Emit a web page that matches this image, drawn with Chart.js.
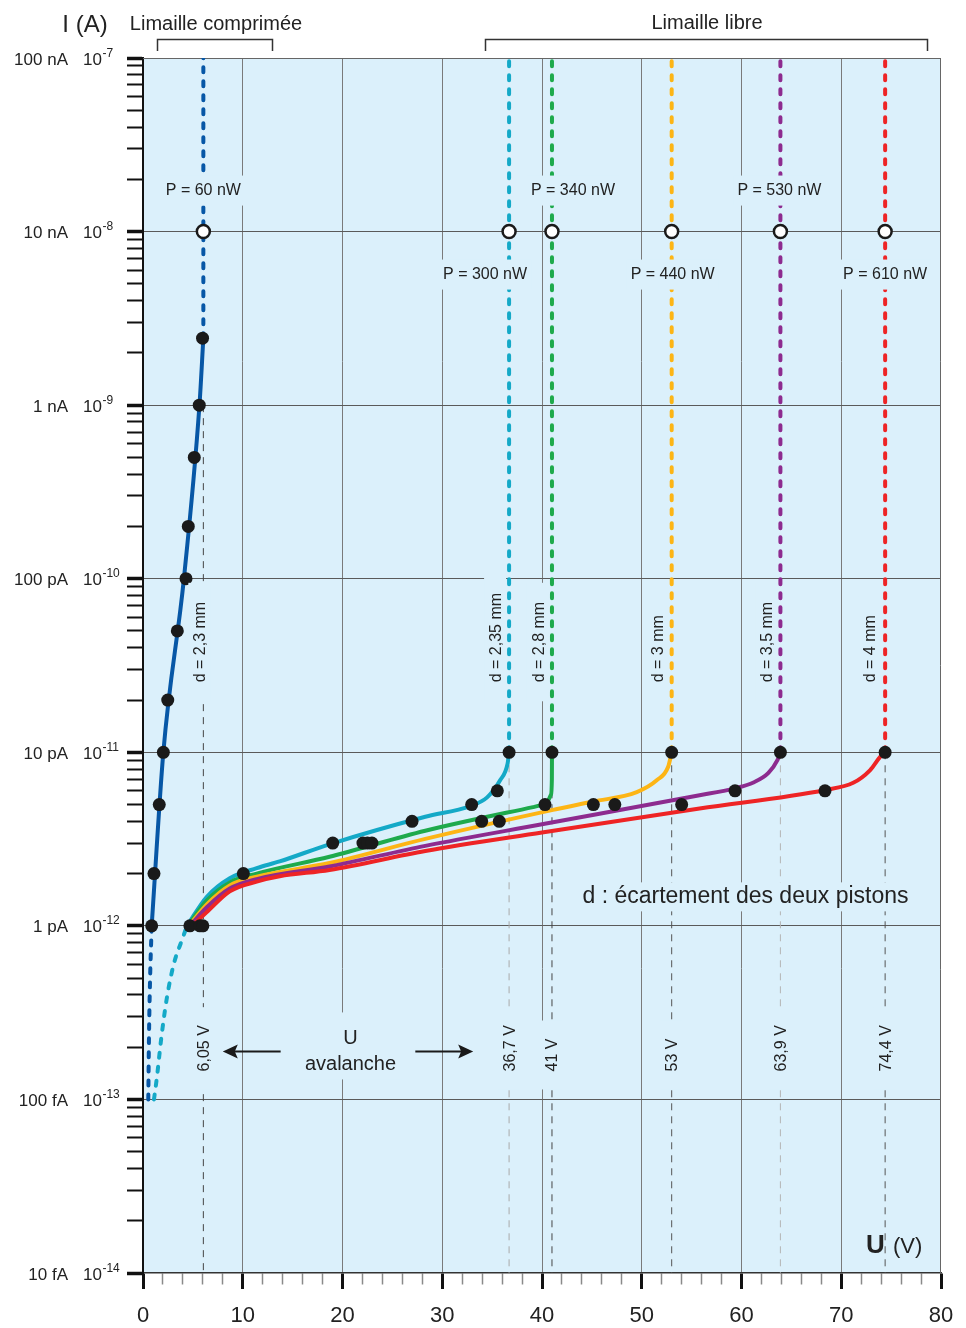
<!DOCTYPE html>
<html>
<head>
<meta charset="utf-8">
<title>Avalanche des limailles</title>
<script src="https://cdn.jsdelivr.net/npm/chart.js@4/dist/chart.umd.min.js"></script>
<style>
  html, body { margin: 0; padding: 0; background: #ffffff; }
  #wrap { width: 966px; height: 1328px; }
</style>
</head>
<body>
<div id="wrap"><canvas id="chart" width="966" height="1328"></canvas></div>
<script>
// ---------- axis labels ----------
const decades = [-7, -8, -9, -10, -11, -12, -13, -14];
const currentNames = ['100 nA', '10 nA', '1 nA', '100 pA', '10 pA', '1 pA', '100 fA', '10 fA'];
const voltTicks = [0, 10, 20, 30, 40, 50, 60, 70, 80];

// ---------- one entry per piston gap ----------
const gapLabels = ['d = 2,3 mm', 'd = 2,35 mm', 'd = 2,8 mm', 'd = 3 mm', 'd = 3,5 mm', 'd = 4 mm'];
const avalancheU = [6.05, 36.7, 41, 53, 63.9, 74.4];
const avalancheText = ['6,05 V', '36,7 V', '41 V', '53 V', '63,9 V', '74,4 V'];
const powerText = ['P = 60 nW', 'P = 300 nW', 'P = 340 nW', 'P = 440 nW', 'P = 530 nW', 'P = 610 nW'];
const kneeI = [2.43e-9, 1e-11, 1e-11, 1e-11, 1e-11, 1e-11];   // start of the avalanche (dotted) part
const guideTopI = [1e-9, 1e-11, 1e-11, 1e-11, 1e-11, 1e-11]; // top of the thin dashed guide
const powerI = 1e-8;   // current at which the dissipated power is given
const topI = 1e-7;
const bottomI = 1e-14;

// ---------- compressed filings (d = 2,3 mm) ----------
const compU = [0.87, 2.04, 4.1, 5.66, 6.05];
const compI = [1e-12, 1e-11, 1e-10, 1e-9, 2.43e-9];
const compLowU = [0.53, 0.6, 0.7, 0.87];
const compLowI = [1e-13, 2.3e-13, 4.7e-13, 1e-12];
const compMeasU = [0.87, 1.10, 1.63, 2.04, 2.48, 3.44, 4.31, 4.54, 5.14, 5.64, 5.97];
const compMeasI = [1e-12, 2e-12, 5e-12, 1e-11, 2e-11, 5e-11, 1e-10, 2e-10, 5e-10, 1e-9, 2.43e-9];

// ---------- loose filings ----------
const looseLowU = [1.1, 1.4, 1.85, 2.41, 3.11, 3.91, 4.41];
const looseLowI = [1e-13, 1.35e-13, 2.3e-13, 3.9e-13, 6.1e-13, 8.3e-13, 1e-12];

const d235U = [4.41, 6.4, 8.7, 11.4, 13.7, 18.7, 28.3, 32.8, 34.5, 35.8, 36.55, 36.7];
const d235I = [1e-12, 1.47e-12, 1.88e-12, 2.15e-12, 2.35e-12, 2.95e-12, 4.25e-12, 4.9e-12, 5.5e-12, 6.9e-12, 8.6e-12, 1e-11];

const d28U = [4.5, 6.4, 8.7, 11.4, 18.7, 28.3, 39.1, 40.45, 40.9, 40.99, 41.0];
const d28I = [1e-12, 1.4e-12, 1.78e-12, 2.0e-12, 2.5e-12, 3.53e-12, 4.83e-12, 5.1e-12, 5.7e-12, 7e-12, 1e-11];

const d3U = [4.6, 6.4, 8.7, 11.4, 18.7, 28.3, 41.1, 45.1, 49.5, 51.5, 52.65, 53.0];
const d3I = [1e-12, 1.33e-12, 1.71e-12, 1.92e-12, 2.3e-12, 3.17e-12, 4.66e-12, 5.2e-12, 5.9e-12, 6.9e-12, 8.25e-12, 1e-11];

const d35U = [4.7, 6.4, 8.7, 11.4, 18.7, 28.3, 40, 55.8, 59.3, 61.2, 62.7, 63.6, 63.9];
const d35I = [1e-12, 1.28e-12, 1.64e-12, 1.86e-12, 2.2e-12, 2.89e-12, 3.85e-12, 5.65e-12, 6.2e-12, 6.7e-12, 7.6e-12, 9e-12, 1e-11];

const d4U = [4.9, 6.4, 8.7, 11.4, 13.7, 18.7, 28.3, 40, 55.8, 68.4, 71.2, 72.9, 73.9, 74.4];
const d4I = [1e-12, 1.2e-12, 1.58e-12, 1.8e-12, 1.93e-12, 2.1e-12, 2.7e-12, 3.45e-12, 4.75e-12, 6.07e-12, 6.67e-12, 7.9e-12, 9.4e-12, 1e-11];

const looseMeasU = [4.7, 5.7, 6.0, 10.06, 19.02, 22.05, 22.5, 22.95, 26.97, 32.95, 33.95, 35.52, 35.72, 40.3, 45.15, 47.3, 54.0, 59.35, 68.37];
const looseMeasI = [1e-12, 1e-12, 1e-12, 2e-12, 3e-12, 3e-12, 3e-12, 3e-12, 4e-12, 5e-12, 4e-12, 6e-12, 4e-12, 5e-12, 5e-12, 5e-12, 5e-12, 6e-12, 6e-12];

// ---------- styles ----------
const FONT = '"Liberation Sans", Arial, Helvetica, sans-serif';
const INK = '#222222';
const PLOT_BG = '#dbf0fb';
const seriesColors = ['#0757a6', '#14a9c7', '#1eaa4c', '#fdb515', '#8d2b8f', '#ee2425'];
const guideColors = ['#444444', '#a9a9a9', '#444444', '#555555', '#b5b5b5', '#555555'];

Chart.defaults.font.family = FONT;

const zip = (us, is) => us.map((u, k) => ({ x: u, y: is[k] }));

const curve = (us, is, color) => ({
  data: zip(us, is), borderColor: color, borderWidth: 4, pointRadius: 0,
  cubicInterpolationMode: 'monotone', borderCapStyle: 'round', borderJoinStyle: 'round', order: 2
});
const dotted = (us, is, color, mono) => ({
  data: zip(us, is), borderColor: color, borderWidth: 4, pointRadius: 0,
  borderDash: [5, 9], borderCapStyle: 'round',
  cubicInterpolationMode: mono ? 'monotone' : 'default', tension: 0, order: 3
});
const markers = (us, is, opts) => Object.assign({
  data: zip(us, is), showLine: false, pointRadius: 6.5, pointBorderWidth: 0,
  pointBackgroundColor: '#1a1a1a', pointBorderColor: '#1a1a1a', order: 1
}, opts || {});

const datasets = [];
// power circles on top
datasets.push(markers(avalancheU, avalancheU.map(() => powerI), {
  pointRadius: 6.5, pointBorderWidth: 2.5, pointBackgroundColor: '#ffffff', order: 0
}));
datasets.push(markers(compMeasU, compMeasI));
datasets.push(markers(looseMeasU, looseMeasI));
datasets.push(markers(avalancheU.slice(1), kneeI.slice(1)));
// measured characteristics
datasets.push(curve(compU, compI, seriesColors[0]));
datasets.push(curve(d4U, d4I, seriesColors[5]));
datasets.push(curve(d35U, d35I, seriesColors[4]));
datasets.push(curve(d3U, d3I, seriesColors[3]));
datasets.push(curve(d28U, d28I, seriesColors[2]));
datasets.push(curve(d235U, d235I, seriesColors[1]));
// extrapolated parts
datasets.push(dotted(compLowU, compLowI, seriesColors[0], true));
datasets.push(dotted(looseLowU, looseLowI, seriesColors[1], true));
avalancheU.forEach((u, k) => {
  datasets.push(dotted([u, u], [kneeI[k], topI], seriesColors[k], false));
});
// thin guides down to the voltage axis
avalancheU.forEach((u, k) => {
  datasets.push({
    data: zip([u, u], [guideTopI[k], bottomI]), borderColor: guideColors[k], borderWidth: 1,
    borderDash: [7, 6], pointRadius: 0, tension: 0, order: 4
  });
});

// tick lists
const xTickValues = [];
for (let v = 0; v <= 80; v += 2) xTickValues.push(v);
const yTickValues = [];
for (let e = -14; e < -7; e++) for (let m = 1; m <= 9; m++) yTickValues.push(m * Math.pow(10, e));
yTickValues.push(topI);

const isDecade = v => Math.abs(Math.log10(v) - Math.round(Math.log10(v))) < 1e-9;
const isMajorX = c => c.tick && voltTicks.includes(c.tick.value);

// ---------- drawing helpers ----------
function boxedText(ctx, txt, cx, cy, size, padX, padY) {
  ctx.font = `${size}px ${FONT}`;
  const w = ctx.measureText(txt).width;
  const h = size;
  ctx.fillStyle = PLOT_BG;
  ctx.fillRect(cx - w / 2 - padX, cy - h / 2 - padY, w + 2 * padX, h + 2 * padY);
  ctx.fillStyle = INK;
  ctx.textAlign = 'center';
  ctx.textBaseline = 'middle';
  ctx.fillText(txt, cx, cy);
}

// vertical text reading bottom to top; (bx, sy) = baseline x and start y
function verticalText(ctx, txt, bx, sy, size, padAlong) {
  ctx.save();
  ctx.translate(bx, sy);
  ctx.rotate(-Math.PI / 2);
  ctx.font = `${size}px ${FONT}`;
  const w = ctx.measureText(txt).width;
  ctx.fillStyle = PLOT_BG;
  ctx.fillRect(-padAlong, -17, w + 2 * padAlong, 22);
  ctx.fillStyle = INK;
  ctx.textAlign = 'left';
  ctx.textBaseline = 'alphabetic';
  ctx.fillText(txt, 0, 0);
  ctx.restore();
}

function arrow(ctx, x0, x1, y) {
  const dir = Math.sign(x1 - x0);
  ctx.strokeStyle = '#1a1a1a';
  ctx.fillStyle = '#1a1a1a';
  ctx.lineWidth = 2;
  ctx.beginPath();
  ctx.moveTo(x0, y);
  ctx.lineTo(x1 - dir * 10, y);
  ctx.stroke();
  ctx.beginPath();
  ctx.moveTo(x1, y);
  ctx.lineTo(x1 - dir * 15, y - 7);
  ctx.lineTo(x1 - dir * 12, y);
  ctx.lineTo(x1 - dir * 15, y + 7);
  ctx.closePath();
  ctx.fill();
}

const decorations = {
  id: 'decorations',
  beforeDraw(chart) {
    const { ctx, chartArea: a } = chart;
    ctx.save();
    ctx.fillStyle = PLOT_BG;
    ctx.fillRect(a.left, a.top, a.right - a.left, a.bottom - a.top);
    ctx.restore();
  },
  beforeDatasetsDraw(chart) {
    const { ctx, chartArea: a } = chart;
    ctx.save();
    ctx.strokeStyle = '#666666';
    ctx.lineWidth = 1;
    ctx.beginPath();
    ctx.moveTo(a.left, Math.round(a.top) + 0.5);
    ctx.lineTo(a.right, Math.round(a.top) + 0.5);
    ctx.moveTo(Math.round(a.right) - 0.5, a.top);
    ctx.lineTo(Math.round(a.right) - 0.5, a.bottom);
    ctx.stroke();
    ctx.restore();
  },
  afterDatasetsDraw(chart) {
    const { ctx } = chart;
    const xs = chart.scales.x, ys = chart.scales.y;
    const lx = avalancheU.map(u => xs.getPixelForValue(u));
    ctx.save();

    // dissipated power at the avalanche
    const powerAbove = [true, false, true, false, true, false];
    const powerShift = [0, -24, 21, 1, -1, 0];
    const yAbove = ys.getPixelForValue(powerI) - 41;
    const yBelow = ys.getPixelForValue(powerI) + 43;
    powerText.forEach((t, k) => {
      boxedText(ctx, t, lx[k] + powerShift[k], powerAbove[k] ? yAbove : yBelow, 16, 4, 7);
    });

    // piston gaps
    const gapShift = [2, -8, -8, -9, -8, -10];
    const gapStart = ys.getPixelForValue(kneeI[1]) - 70;
    gapLabels.forEach((t, k) => verticalText(ctx, t, lx[k] + gapShift[k], gapStart, 16, 19));

    // avalanche voltages
    const voltStart = ys.getPixelForValue(1e-13) - 28;
    avalancheText.forEach((t, k) => verticalText(ctx, t, lx[k] + 5.5, voltStart, 16, 18));

    // "U avalanche" with arrows
    const ay = ys.getPixelForValue(1e-13) - 48;
    const cx = xs.getPixelForValue(20.8);
    ctx.fillStyle = PLOT_BG;
    ctx.fillRect(cx - 52, ay - 39, 104, 67);
    ctx.fillStyle = INK;
    ctx.font = `20px ${FONT}`;
    ctx.textAlign = 'center';
    ctx.textBaseline = 'alphabetic';
    ctx.fillText('U', cx, ay - 7);
    ctx.fillText('avalanche', cx, ay + 19);
    arrow(ctx, xs.getPixelForValue(13.8), xs.getPixelForValue(8.0), ay);
    arrow(ctx, xs.getPixelForValue(27.3), xs.getPixelForValue(33.1), ay);

    // legend of d
    boxedText(ctx, 'd : écartement des deux pistons', xs.getPixelForValue(60.4), ys.getPixelForValue(1e-12) - 29, 23, 3, 3);

    // axis title U (V)
    ctx.fillStyle = INK;
    ctx.textAlign = 'left';
    ctx.textBaseline = 'alphabetic';
    ctx.font = `bold 26px ${FONT}`;
    ctx.fillText('U', 866, 1253);
    ctx.font = `22px ${FONT}`;
    ctx.fillText('(V)', 893, 1253);
    ctx.restore();
  },
  afterDraw(chart) {
    const { ctx } = chart;
    const ys = chart.scales.y, xs = chart.scales.x;
    ctx.save();
    ctx.fillStyle = INK;
    ctx.textBaseline = 'alphabetic';
    // current scale: name and power of ten
    decades.forEach((e, k) => {
      const py = ys.getPixelForValue(Math.pow(10, e));
      ctx.font = `17px ${FONT}`;
      ctx.textAlign = 'right';
      ctx.fillText(currentNames[k], 68, py + 6.5);
      ctx.textAlign = 'left';
      ctx.fillText('10', 83, py + 6.5);
      const w = ctx.measureText('10').width;
      ctx.font = `12px ${FONT}`;
      ctx.fillText(String(e), 83 + w + 0.5, py - 1.5);
    });

    // titles
    ctx.textAlign = 'center';
    ctx.font = `24px ${FONT}`;
    ctx.fillText('I (A)', 85, 32);
    ctx.font = `20px ${FONT}`;
    ctx.fillText('Limaille comprimée', 216, 30);
    ctx.fillText('Limaille libre', 707, 29);

    // group brackets
    ctx.strokeStyle = '#333333';
    ctx.lineWidth = 1.5;
    const bracket = (u0, u1) => {
      const x0 = Math.round(xs.getPixelForValue(u0)) + 0.5;
      const x1 = Math.round(xs.getPixelForValue(u1)) + 0.5;
      ctx.beginPath();
      ctx.moveTo(x0, 51);
      ctx.lineTo(x0, 39.5);
      ctx.lineTo(x1, 39.5);
      ctx.lineTo(x1, 51);
      ctx.stroke();
    };
    bracket(1.4, 12.9);
    bracket(34.3, 78.6);
    ctx.restore();
  }
};

new Chart(document.getElementById('chart'), {
  type: 'line',
  data: { datasets },
  options: {
    responsive: false,
    devicePixelRatio: 1,
    animation: false,
    events: [],
    layout: { autoPadding: false, padding: { left: 0, right: 25, top: 58, bottom: 0 } },
    plugins: { legend: { display: false }, tooltip: { enabled: false } },
    scales: {
      x: {
        type: 'linear', min: 0, max: 80,
        afterBuildTicks: s => { s.ticks = xTickValues.map(v => ({ value: v })); },
        afterFit: s => { s.height = 55; s.paddingLeft = 0; s.paddingRight = 0; },
        border: { color: '#333333', width: 1.5 },
        grid: {
          color: c => (c.tick && c.tick.value % 10 === 0 && c.tick.value > 0 && c.tick.value < 80) ? '#7a7a7a' : 'rgba(0,0,0,0)',
          lineWidth: 1,
          tickLength: 16,
          tickColor: c => isMajorX(c) ? '#111111' : '#8a8a8a',
          tickWidth: c => isMajorX(c) ? 3 : 1.5,
          tickBorderDash: c => isMajorX(c) ? [] : [11, 40]
        },
        ticks: {
          autoSkip: false, maxRotation: 0, minRotation: 0, padding: 14,
          color: INK, font: { size: 22 },
          callback: v => voltTicks.includes(v) ? String(v) : ''
        }
      },
      y: {
        type: 'logarithmic', min: bottomI, max: topI,
        afterBuildTicks: s => { s.ticks = yTickValues.map(v => ({ value: v })); },
        afterFit: s => { s.width = 143; s.paddingTop = 0; s.paddingBottom = 0; },
        border: { color: '#111111', width: 2 },
        grid: {
          color: c => (c.tick && isDecade(c.tick.value) && c.tick.value > 2e-14 && c.tick.value < 5e-8) ? '#5a5a5a' : 'rgba(0,0,0,0)',
          lineWidth: 1,
          tickLength: 16,
          tickColor: '#111111',
          tickWidth: c => (c.tick && isDecade(c.tick.value)) ? 3.5 : 2
        },
        ticks: { display: false }
      }
    }
  },
  plugins: [decorations]
});
</script>
</body>
</html>
